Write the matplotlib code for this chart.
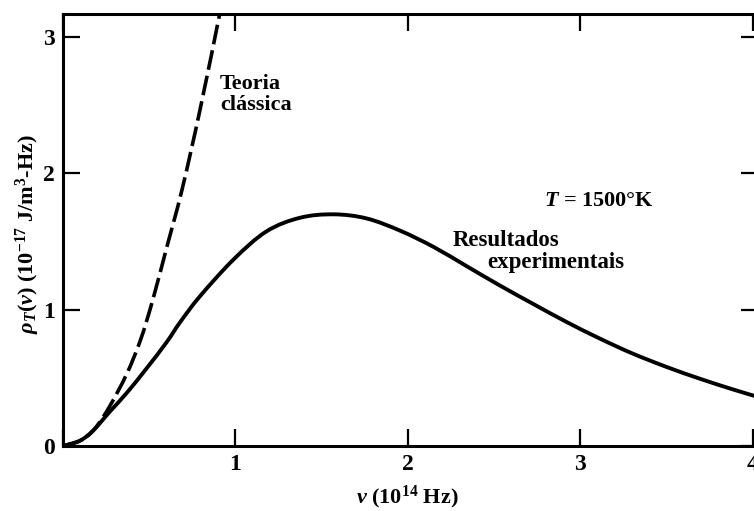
import matplotlib
matplotlib.use('Agg')
import matplotlib.pyplot as plt
from matplotlib.path import Path
from matplotlib.patches import PathPatch

# values
# experimental (solid) curve
exp_nu = [0.0, 0.10, 0.176, 0.27, 0.37, 0.485, 0.60, 0.68, 0.795, 0.99,
          1.18, 1.375, 1.57, 1.76, 1.955, 2.15, 2.34, 2.53, 2.73, 2.92,
          3.11, 3.30, 3.50, 3.69, 3.885, 4.03]
exp_rho = [0.0, 0.04, 0.115, 0.25, 0.39, 0.57, 0.76, 0.91, 1.10, 1.37,
           1.575, 1.675, 1.70, 1.67, 1.58, 1.46, 1.32, 1.18, 1.04, 0.91,
           0.79, 0.68, 0.58, 0.495, 0.415, 0.36]

# classical theory (dashed) curve
cl_nu = [0.0, 0.10, 0.18, 0.27, 0.37, 0.45, 0.52, 0.60, 0.69, 0.795, 0.91, 0.94]
cl_rho = [0.0, 0.04, 0.12, 0.29, 0.53, 0.78, 1.07, 1.45, 1.88, 2.47, 3.18, 3.38]

x_ticks = [0, 1, 2, 3, 4]
x_tick_labels = ['', '1', '2', '3', '4']
y_ticks = [0, 1, 2, 3]


def smooth_path(xs, ys):
    # Catmull-Rom through the read points, drawn as cubic Bezier pieces
    pts = list(zip(xs, ys))
    n = len(pts)
    verts = [pts[0]]
    codes = [Path.MOVETO]
    for i in range(n - 1):
        p0 = pts[i - 1] if i > 0 else pts[i]
        p1 = pts[i]
        p2 = pts[i + 1]
        p3 = pts[i + 2] if i + 2 < n else pts[i + 1]
        c1 = (p1[0] + (p2[0] - p0[0]) / 6, p1[1] + (p2[1] - p0[1]) / 6)
        c2 = (p2[0] - (p3[0] - p1[0]) / 6, p2[1] - (p3[1] - p1[1]) / 6)
        verts += [c1, c2, p2]
        codes += [Path.CURVE4] * 3
    return Path(verts, codes)


plt.rcParams['font.family'] = ['Liberation Serif', 'DejaVu Serif']
plt.rcParams['font.weight'] = 'bold'
plt.rcParams['axes.labelweight'] = 'bold'
plt.rcParams['mathtext.fontset'] = 'custom'
plt.rcParams['mathtext.rm'] = 'Liberation Serif:bold'
plt.rcParams['mathtext.it'] = 'Liberation Serif:italic:bold'
plt.rcParams['mathtext.bf'] = 'Liberation Serif:bold'

fig = plt.figure(figsize=(7.54, 5.11), dpi=100)
ax = fig.add_axes([63 / 754, 65 / 511, (758 - 63) / 754, (497 - 65) / 511])

ax.add_patch(PathPatch(smooth_path(exp_nu, exp_rho), fill=False,
                       edgecolor='black', linewidth=2.8, capstyle='round'))
ax.add_patch(PathPatch(smooth_path(cl_nu, cl_rho), fill=False,
                       edgecolor='black', linewidth=2.6,
                       linestyle=(0, (5.5, 1.7))))

ax.set_xlim(0, 4.03)
ax.set_ylim(0, 3.17)
ax.set_xticks(x_ticks)
ax.set_xticklabels(x_tick_labels)
ax.set_yticks(y_ticks)

ax.tick_params(direction='in', length=12, width=1.6, labelsize=17,
               top=True, right=True, pad=6)
for side in ['left', 'bottom', 'top', 'right']:
    ax.spines[side].set_linewidth(2.2)

ax.text(0.91, 2.58, 'Teoria\nclássica', fontsize=16, ha='left',
        va='center', linespacing=1.05)
ax.text(3.11, 1.80, r'$T$ = 1500°K', fontsize=16, ha='center', va='center')
ax.text(2.26, 1.51, 'Resultados', fontsize=16.5, ha='left', va='center')
ax.text(2.46, 1.35, 'experimentais', fontsize=16.5, ha='left', va='center')

ax.set_xlabel(r'$\nu$ (10$^{14}$ Hz)', fontsize=16)
ax.xaxis.set_label_coords(0.496, -0.088)
ax.set_ylabel(r'$\rho_T(\nu)$ (10$^{-17}$ J/m$^3$-Hz)', fontsize=16)
ax.yaxis.set_label_coords(-0.03, 0.49)

fig.savefig('out.png', dpi=100)
